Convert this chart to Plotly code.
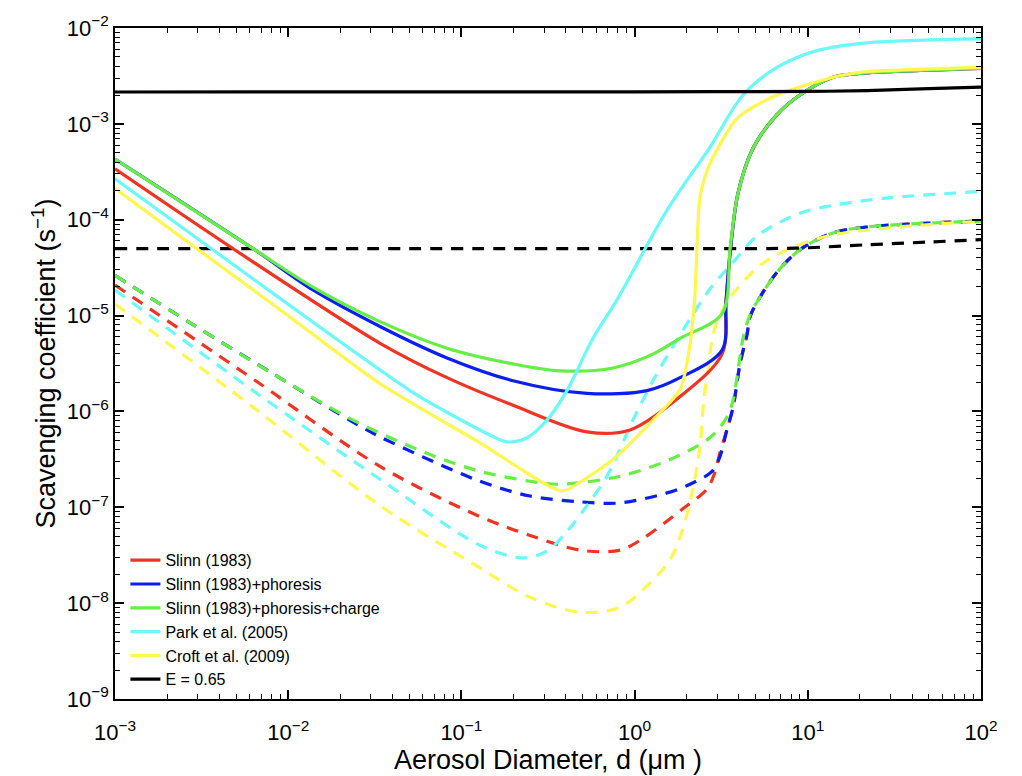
import plotly.graph_objects as go

# ---------------- data ----------------
# Solid curves
slinn_x = [1e-3, 4.80e-3, 0.0339, 0.0826, 0.1986, 0.531, 0.941, 1.83, 3.20,
           3.37, 3.56, 3.95, 4.83, 6.64, 9.02, 13.96, 20.0, 44.5, 100]
slinn_y = [3.39e-4, 4.99e-5, 5.14e-6, 2.25e-6, 1.16e-6, 6.11e-7, 6.41e-7, 1.43e-6, 3.96e-6,
           1.39e-5, 4.54e-5, 1.87e-4, 5.57e-4, 1.25e-3, 2.0e-3, 3.06e-3, 3.36e-3, 3.61e-3, 3.79e-3]

phor_x = [1e-3, 6.27e-3, 0.0139, 0.0339, 0.0826, 0.1986, 0.531, 1.18, 1.83, 3.20,
          3.37, 3.56, 3.95, 4.83, 6.64, 9.02, 13.96, 20.0, 44.5, 100]
phor_y = [4.30e-4, 4.99e-5, 1.85e-5, 7.69e-6, 3.61e-6, 2.09e-6, 1.54e-6, 1.65e-6, 2.25e-6, 4.36e-6,
          1.39e-5, 4.54e-5, 1.87e-4, 5.57e-4, 1.25e-3, 2.0e-3, 3.06e-3, 3.36e-3, 3.61e-3, 3.79e-3]

charge_x = [1e-3, 6.27e-3, 0.0139, 0.0339, 0.0826, 0.1986, 0.371, 0.750, 1.276, 1.83, 3.20,
            3.56, 3.95, 4.83, 6.64, 9.02, 13.96, 20.0, 44.5, 100]
charge_y = [4.30e-4, 4.99e-5, 1.98e-5, 8.65e-6, 4.57e-6, 3.13e-6, 2.65e-6, 2.84e-6, 3.96e-6, 5.79e-6, 1.047e-5,
            5.10e-5, 1.87e-4, 5.57e-4, 1.25e-3, 2.0e-3, 3.06e-3, 3.36e-3, 3.61e-3, 3.79e-3]

park_x = [1e-3, 3.54e-3, 0.0505, 0.0826, 0.128, 0.183, 0.239, 0.312, 0.407, 0.575, 0.791,
          1.54, 2.72, 4.23, 6.64, 11.3, 22.0, 100]
park_y = [2.68e-4, 5.10e-5, 1.65e-6, 9.8e-7, 6.41e-7, 4.82e-7, 5.31e-7, 8.13e-7, 1.65e-6, 5.79e-6, 1.46e-5,
          1.26e-4, 5.70e-4, 2.0e-3, 3.88e-3, 5.81e-3, 7.01e-3, 7.71e-3]

croft_x = [1e-3, 0.01, 0.0339, 0.128, 0.381, 0.484, 0.750, 1.276, 1.83, 2.09, 2.23, 2.39, 2.72,
           3.95, 6.64, 13.96, 20.0, 100]
croft_y = [2.11e-4, 9.97e-6, 1.95e-6, 4.71e-7, 1.48e-7, 1.83e-7, 3.15e-7, 8.13e-7, 1.69e-6, 5.02e-6, 1.64e-5,
           1.75e-4, 3.82e-4, 1.16e-3, 2.0e-3, 3.06e-3, 3.45e-3, 3.88e-3]

e065_x = [1e-3, 0.1, 1.0, 10.0, 22.0, 50.0, 100]
e065_y = [2.15e-3, 2.16e-3, 2.16e-3, 2.18e-3, 2.22e-3, 2.33e-3, 2.42e-3]

# Dashed curves
slinn_d_x = [1e-3, 6.61e-3, 0.0339, 0.128, 0.249, 0.484, 0.824, 1.12, 1.90, 2.62, 2.91, 3.11,
             3.41, 3.70, 4.06, 4.46, 4.64, 5.30, 6.64, 9.02, 13.96, 22.0, 100]
slinn_d_y = [2.08e-5, 2.04e-6, 2.67e-7, 8.0e-8, 5.09e-8, 3.57e-8, 3.57e-8, 4.74e-8, 9.66e-8, 1.55e-7,
             2.32e-7, 3.72e-7, 6.41e-7, 1.10e-6, 3.13e-6, 6.37e-6, 9.75e-6, 1.56e-5, 2.83e-5, 4.87e-5,
             7.28e-5, 8.40e-5, 9.68e-5]

phor_d_x = [1e-3, 2.82e-3, 8.17e-3, 0.02366, 0.0339, 0.128, 0.249, 0.484, 0.824, 1.60, 2.09, 2.80, 3.11,
            3.41, 3.70, 4.06, 4.46, 4.64, 5.30, 6.64, 9.02, 13.96, 22.0, 100]
phor_d_y = [2.63e-5, 8.05e-6, 2.47e-6, 7.75e-7, 5.43e-7, 1.87e-7, 1.31e-7, 1.14e-7, 1.11e-7, 1.44e-7, 1.74e-7,
            2.37e-7, 3.38e-7, 6.41e-7, 1.10e-6, 3.13e-6, 6.37e-6, 9.75e-6, 1.56e-5, 2.83e-5, 4.87e-5,
            7.28e-5, 8.40e-5, 9.68e-5]

charge_d_x = [1e-3, 2.82e-3, 8.17e-3, 0.02366, 0.0659, 0.128, 0.249, 0.371, 0.824, 1.60, 2.72, 3.41,
              3.70, 3.90, 4.23, 4.64, 5.30, 6.64, 9.02, 13.96, 22.0, 100]
charge_d_y = [2.63e-5, 8.05e-6, 2.47e-6, 8.13e-7, 3.55e-7, 2.37e-7, 1.87e-7, 1.74e-7, 2.11e-7, 3.15e-7,
              5.31e-7, 8.71e-7, 1.30e-6, 2.25e-6, 5.79e-6, 1.02e-5, 1.56e-5, 2.83e-5, 4.87e-5, 7.28e-5,
              8.40e-5, 9.68e-5]

park_d_x = [1e-3, 6.61e-3, 0.0339, 0.128, 0.227, 0.312, 0.407, 0.531, 0.693, 0.979, 1.276,
            1.71, 2.72, 3.70, 5.10, 9.02, 13.96, 27.2, 100]
park_d_y = [1.85e-5, 1.54e-6, 1.96e-7, 4.02e-8, 2.96e-8, 3.49e-8, 5.60e-8, 1.04e-7, 2.11e-7,
            8.13e-7, 2.09e-6, 5.14e-6, 1.89e-5, 3.58e-5, 6.78e-5, 1.17e-4, 1.41e-4, 1.67e-4, 1.97e-4]

croft_d_x = [1e-3, 6.61e-3, 0.0339, 0.128, 0.249, 0.484, 0.824, 1.15, 1.60, 1.90, 2.17, 2.39, 2.51,
             2.65, 2.84, 3.24, 3.90, 5.30, 7.59, 13.96, 100]
croft_d_y = [1.32e-5, 1.03e-6, 1.04e-7, 2.33e-8, 1.15e-8, 8.04e-9, 9.05e-9, 1.45e-8, 2.82e-8, 6.01e-8,
             1.55e-7, 4.38e-7, 1.30e-6, 2.65e-6, 6.37e-6, 1.18e-5, 1.89e-5, 3.33e-5, 4.87e-5, 6.95e-5, 9.68e-5]

e065_d_x = [1e-3, 1.0, 6.0, 10.0, 22.0, 50.0, 100]
e065_d_y = [5.0e-5, 5.0e-5, 5.0e-5, 5.1e-5, 5.48e-5, 5.85e-5, 6.2e-5]

names = ["Slinn (1983)", "Slinn (1983)+phoresis", "Slinn (1983)+phoresis+charge",
         "Park et al. (2005)", "Croft et al. (2009)", "E = 0.65"]
colors = ["#EE3524", "#0A1EF0", "#66EE44", "#6CF8F8", "#FFF650", "#000000"]
smooth = [0.9, 0.9, 0.9, 0.9, 0.7, 0.8]

# axis tick labels
x_tickvals = [1e-3, 1e-2, 1e-1, 1e0, 1e1, 1e2]
x_ticktext = ["10<sup>−3</sup>", "10<sup>−2</sup>", "10<sup>−1</sup>",
              "10<sup>0</sup>", "10<sup>1</sup>", "10<sup>2</sup>"]
y_tickvals = [1e-9, 1e-8, 1e-7, 1e-6, 1e-5, 1e-4, 1e-3, 1e-2]
y_ticktext = ["10<sup>−9</sup>", "10<sup>−8</sup>", "10<sup>−7</sup>", "10<sup>−6</sup>",
              "10<sup>−5</sup>", "10<sup>−4</sup>", "10<sup>−3</sup>", "10<sup>−2</sup>"]

solid = [(slinn_x, slinn_y), (phor_x, phor_y), (charge_x, charge_y),
         (park_x, park_y), (croft_x, croft_y), (e065_x, e065_y)]
dashed = [(slinn_d_x, slinn_d_y), (phor_d_x, phor_d_y), (charge_d_x, charge_d_y),
          (park_d_x, park_d_y), (croft_d_x, croft_d_y), (e065_d_x, e065_d_y)]

fig = go.Figure()
for (x, y), c in zip(dashed, colors):
    fig.add_trace(go.Scatter(x=x, y=y, mode="lines", showlegend=False,
                             line=dict(color=c, width=3.2, dash="12px,9px",
                                       shape="spline", smoothing=0.9)))
for (x, y), c, n, s in zip(solid, colors, names, smooth):
    fig.add_trace(go.Scatter(x=x, y=y, mode="lines", name=n,
                             line=dict(color=c, width=3.2, shape="spline", smoothing=s)))


def minor_positions(lo, hi):
    return [k * 10.0 ** e for e in range(lo, hi) for k in range(2, 10)]


font_family = "Liberation Sans, Arial, Helvetica, sans-serif"
axis_common = dict(
    type="log", showgrid=False, zeroline=False,
    showline=True, linecolor="black", linewidth=1.5, mirror="ticks",
    ticks="inside", ticklen=9, tickwidth=1.5, tickcolor="black",
    tickfont=dict(family=font_family, size=22, color="black"),
)

fig.update_layout(
    width=1022, height=776,
    margin=dict(l=115, r=41, t=22, b=73),
    paper_bgcolor="white", plot_bgcolor="white",
    font=dict(family=font_family, color="black"),
    xaxis=dict(range=[-3, 2], tickmode="array", tickvals=x_tickvals, ticktext=x_ticktext,
               ticklabelstandoff=13,
               minor=dict(ticks="inside", ticklen=5, tickwidth=1, tickcolor="black",
                          tickmode="array", tickvals=minor_positions(-3, 2), showgrid=False),
               title=dict(text="Aerosol Diameter, d (μm )", font=dict(size=27), standoff=0),
               **axis_common),
    yaxis=dict(range=[-9, -2], tickmode="array", tickvals=y_tickvals, ticktext=y_ticktext,
               minor=dict(ticks="inside", ticklen=5, tickwidth=1, tickcolor="black",
                          tickmode="array", tickvals=minor_positions(-9, -2), showgrid=False),
               title=dict(text="Scavenging coefficient (s<sup>−1</sup>)", font=dict(size=27), standoff=3),
               **axis_common),
    legend=dict(x=0.012, y=0.004, xanchor="left", yanchor="bottom",
                bgcolor="rgba(255,255,255,0)", borderwidth=0,
                font=dict(family=font_family, size=16, color="black"),
                tracegroupgap=0, itemwidth=30),
)

fig.write_html("out.html")
